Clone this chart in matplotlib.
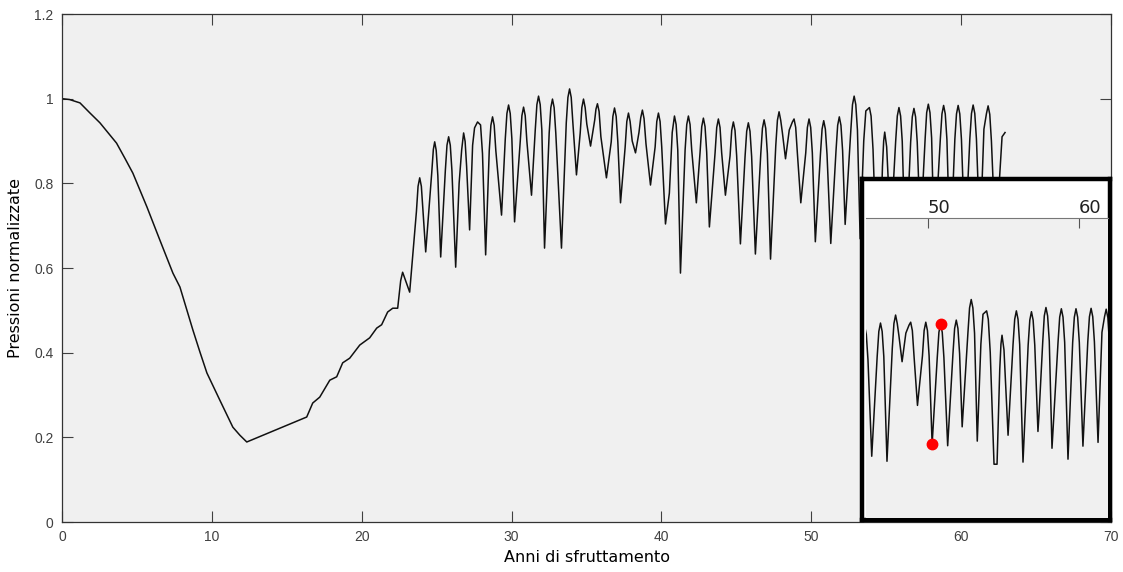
import matplotlib
matplotlib.use('Agg')
import matplotlib.pyplot as plt

# anni di sfruttamento / pressione normalizzata
anni = [
    0.0, 0.5, 1.2, 1.87, 2.53, 3.64, 4.2, 4.73, 5.67, 6.53, 7.4, 7.87,
    8.73, 9.2, 9.67, 10.53, 11.4, 11.87, 12.33, 16.33, 16.73, 17.2, 17.87,
    18.33, 18.73, 19.2, 19.87, 20.53, 21.0, 21.33, 21.73, 22.07, 22.4,
    22.6, 22.73, 23.2,
    23.65, 23.76, 23.87, 23.98, 24.09, 24.27,
    24.67, 24.78, 24.87, 24.97, 25.08, 25.27,
    25.58, 25.69, 25.8, 25.91, 26.02, 26.27,
    26.5, 26.67, 26.8, 26.9, 27.0, 27.2,
    27.4, 27.53, 27.73, 27.93, 28.06, 28.27,
    28.51, 28.62, 28.73, 28.84, 28.95, 29.33,
    29.58, 29.69, 29.8, 29.91, 30.02, 30.2,
    30.58, 30.69, 30.8, 30.91, 31.02, 31.33,
    31.58, 31.69, 31.8, 31.91, 32.02, 32.2,
    32.51, 32.62, 32.73, 32.84, 32.95, 33.33,
    33.65, 33.76, 33.87, 33.98, 34.09, 34.33,
    34.58, 34.69, 34.8, 34.91, 35.02, 35.27,
    35.55, 35.63, 35.73, 35.84, 35.96, 36.33,
    36.65, 36.76, 36.87, 36.98, 37.09, 37.27,
    37.58, 37.69, 37.8, 37.91, 38.05, 38.27,
    38.5, 38.62, 38.73, 38.84, 38.97, 39.27,
    39.58, 39.69, 39.8, 39.91, 40.02, 40.27,
    40.53, 40.72, 40.87, 40.98, 41.09, 41.27,
    41.58, 41.69, 41.8, 41.91, 42.02, 42.33,
    42.58, 42.69, 42.8, 42.91, 43.02, 43.2,
    43.58, 43.69, 43.8, 43.91, 44.02, 44.27,
    44.58, 44.69, 44.8, 44.91, 45.02, 45.27,
    45.58, 45.69, 45.8, 45.91, 46.02, 46.27,
    46.63, 46.74, 46.85, 46.96, 47.07, 47.28,
    47.63, 47.74, 47.85, 47.96, 48.07, 48.28,
    48.53, 48.74, 48.85, 48.96, 49.07, 49.3,
    49.63, 49.74, 49.85, 49.96, 50.07, 50.27,
    50.61, 50.72, 50.83, 50.94, 51.05, 51.3,
    51.65, 51.76, 51.87, 51.98, 52.09, 52.26,
    52.64, 52.75, 52.86, 52.97, 53.08, 53.26,
    53.5, 53.64, 53.88, 53.99, 54.12, 54.37, 54.57,
    54.75, 54.83, 54.9, 55.03, 55.3,
    55.63, 55.74, 55.85, 55.96, 56.07, 56.29,
    56.63, 56.74, 56.85, 56.96, 57.07, 57.28,
    57.35, 57.6, 57.7, 57.81, 57.92, 58.03, 58.21,
    58.61, 58.72, 58.83, 58.94, 59.05, 59.27,
    59.58, 59.69, 59.8, 59.91, 60.02, 60.26,
    60.58, 60.69, 60.8, 60.91, 61.02, 61.26,
    61.52, 61.69, 61.8, 61.91, 62.02, 62.3,
    62.73, 62.93,
]
pressione = [
    1.0, 0.998, 0.99, 0.966, 0.943, 0.895, 0.859, 0.824, 0.744, 0.666,
    0.588, 0.555, 0.454, 0.402, 0.352, 0.288, 0.224, 0.205, 0.189, 0.248,
    0.281, 0.295, 0.335, 0.343, 0.376, 0.387, 0.418, 0.435, 0.458, 0.466,
    0.496, 0.505, 0.505,
    0.57, 0.59, 0.543,
    0.733, 0.793, 0.813, 0.793, 0.733, 0.638,
    0.824, 0.88, 0.898, 0.878, 0.818, 0.626,
    0.83, 0.89, 0.91, 0.89, 0.83, 0.602,
    0.80, 0.879, 0.919, 0.899, 0.84, 0.69,
    0.89, 0.931, 0.945, 0.938, 0.87, 0.631,
    0.877, 0.937, 0.957, 0.937, 0.877, 0.725,
    0.905, 0.965, 0.985, 0.965, 0.905, 0.709,
    0.90, 0.96, 0.98, 0.96, 0.90, 0.772,
    0.926, 0.986, 1.006, 0.986, 0.926, 0.647,
    0.919, 0.979, 0.999, 0.979, 0.919, 0.647,
    0.943, 1.003, 1.023, 1.003, 0.943, 0.82,
    0.919, 0.979, 0.999, 0.979, 0.94, 0.888,
    0.95, 0.975, 0.988, 0.97, 0.91, 0.813,
    0.898, 0.958, 0.978, 0.958, 0.898, 0.754,
    0.886, 0.946, 0.966, 0.946, 0.90, 0.872,
    0.92, 0.955, 0.973, 0.953, 0.893, 0.796,
    0.886, 0.946, 0.966, 0.946, 0.886, 0.704,
    0.777, 0.92, 0.959, 0.939, 0.879, 0.588,
    0.879, 0.939, 0.959, 0.939, 0.879, 0.754,
    0.874, 0.934, 0.954, 0.934, 0.874, 0.697,
    0.872, 0.932, 0.952, 0.932, 0.872, 0.772,
    0.865, 0.925, 0.945, 0.925, 0.865, 0.657,
    0.863, 0.923, 0.943, 0.923, 0.863, 0.633,
    0.87, 0.93, 0.95, 0.93, 0.87, 0.621,
    0.889, 0.949, 0.969, 0.949, 0.92, 0.858,
    0.926, 0.945, 0.952, 0.932, 0.872, 0.754,
    0.872, 0.932, 0.952, 0.932, 0.872, 0.662,
    0.868, 0.928, 0.948, 0.928, 0.868, 0.658,
    0.877, 0.937, 0.957, 0.937, 0.877, 0.703,
    0.926, 0.986, 1.006, 0.986, 0.926, 0.669,
    0.90, 0.971, 0.979, 0.959, 0.88, 0.614, 0.614,
    0.84, 0.90, 0.921, 0.886, 0.683,
    0.899, 0.959, 0.979, 0.959, 0.899, 0.619,
    0.897, 0.957, 0.977, 0.957, 0.897, 0.692,
    0.732, 0.907, 0.967, 0.987, 0.967, 0.907, 0.652,
    0.904, 0.964, 0.984, 0.964, 0.904, 0.626,
    0.904, 0.964, 0.984, 0.964, 0.904, 0.657,
    0.905, 0.965, 0.985, 0.965, 0.905, 0.666,
    0.928, 0.965, 0.983, 0.963, 0.90, 0.66,
    0.91, 0.92,
]

# punti evidenziati nel riquadro
punti_x = [50.27, 50.83]
punti_y = [0.662, 0.948]

xticks = [0, 10, 20, 30, 40, 50, 60, 70]
yticks = [0, 0.2, 0.4, 0.6, 0.8, 1.0, 1.2]
ytick_labels = ['0', '0.2', '0.4', '0.6', '0.8', '1', '1.2']

W, H = 1123, 572


def rect(l, t, r, b):
    return [l / W, 1 - b / H, (r - l) / W, (b - t) / H]


fig = plt.figure(figsize=(W / 100, H / 100), dpi=100)

ax = fig.add_axes(rect(62, 14, 1111, 522))
ax.set_facecolor('#f0f0f0')
ax.plot(anni, pressione, color='#111111', lw=1.1)
ax.set_xlim(0, 70)
ax.set_ylim(0, 1.2)
ax.set_xticks(xticks)
ax.set_yticks(yticks)
ax.set_yticklabels(ytick_labels)
ax.tick_params(direction='in', length=8, width=0.8, colors='#404040',
               labelsize=10, top=True, right=True, pad=6)
for lab in ax.get_xticklabels() + ax.get_yticklabels():
    lab.set_fontfamily('Liberation Sans')
for s in ax.spines.values():
    s.set_color('#333333')
    s.set_linewidth(0.9)
ax.set_xlabel('Anni di sfruttamento', fontsize=11.5, family='DejaVu Sans',
              labelpad=4)
ax.set_ylabel('Pressioni normalizzate', fontsize=11.5, family='DejaVu Sans',
              labelpad=8)

# riquadro con lo zoom sugli ultimi anni
frame = fig.add_axes(rect(862, 179, 1110, 520))
frame.set_facecolor('white')
frame.set_xticks([])
frame.set_yticks([])
for s in frame.spines.values():
    s.set_color('black')
    s.set_linewidth(3.2)

ins = fig.add_axes(rect(866, 218, 1108, 518))
ins.set_facecolor('#f0f0f0')
ins.plot(anni, pressione, color='#111111', lw=1.1)
ins.plot(punti_x, punti_y, 'o', color='#ff0000', ms=7.5, zorder=3)
ins.set_xlim(45.89, 61.92)
ins.set_ylim(0.486, 1.2)
ins.set_xticks([50, 60])
ins.set_yticks([])
ins.xaxis.tick_top()
ins.tick_params(axis='x', direction='in', length=7, width=0.8,
                colors='#555555', labelcolor='#222222', labelsize=13, pad=1)
for lab in ins.get_xticklabels():
    lab.set_horizontalalignment('left')
    lab.set_fontfamily('DejaVu Sans')
for k in ['left', 'right', 'bottom']:
    ins.spines[k].set_visible(False)
ins.spines['top'].set_color('#777777')
ins.spines['top'].set_linewidth(0.8)

fig.savefig('out.png', dpi=100, facecolor='white')
